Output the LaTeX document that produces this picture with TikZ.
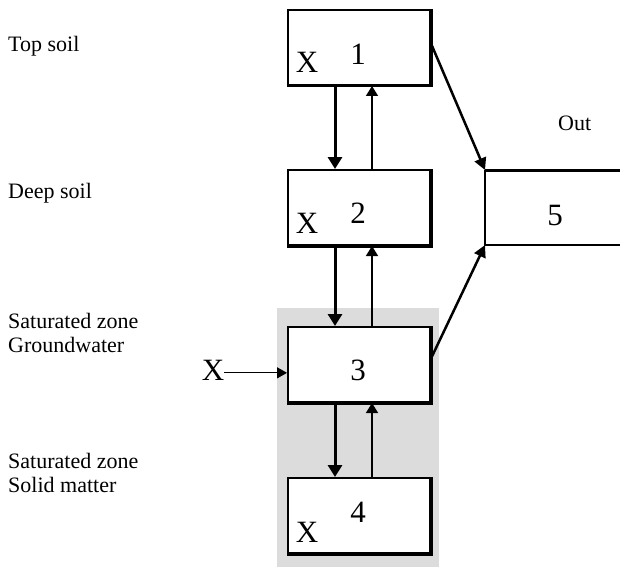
\documentclass[tikz,border=0pt]{standalone}
\usepackage{fontspec}
\setmainfont{Liberation Serif}
\usetikzlibrary{arrows.meta,calc}
\definecolor{zonegray}{RGB}{220,220,220}
\begin{document}
\begin{tikzpicture}[x=1pt,y=-1pt,
  box/.style={draw,line width=2pt,fill=white,minimum width=142pt,minimum height=75pt,inner sep=0pt},
  lbl/.style={font=\fontsize{22}{24}\selectfont,anchor=base west,inner sep=0pt},
  big/.style={font=\fontsize{31}{34}\selectfont,anchor=base,inner sep=0pt},
  downflow/.style={line width=3pt,-{Triangle[length=12pt,width=14pt]}},
  upflow/.style={line width=1.5pt,-{Triangle[length=10pt,width=12pt]}},
  outflow/.style={line width=2.5pt,-{Triangle[length=12pt,width=12pt]}},
  inflow/.style={line width=1.2pt,-{Triangle[length=10pt,width=11pt]}}]
\useasboundingbox (0,0) rectangle (620,567);

% saturated zone background
\fill[zonegray] (277,308) rectangle (439,567);

% compartments
\node[box] (b1) at (359,47.5) {};
\node[box] (b2) at (359,207.5) {};
\node[box] (b3) at (359,364.5) {};
\node[box] (b4) at (359,515.5) {};
\foreach \b in {b1,b2,b3,b4}
  \draw[line width=3pt] (\b.north east) -- (\b.south east) -- (\b.south west);

% numbers and sources inside the compartments
\node[big] (n1) at (358,65) {1};
\node[big] (n2) at (358,223) {2};
\node[big] (n3) at (358,380) {3};
\node[big] (n4) at (358,522) {4};
\node[big] (x1) at (307,73) {X};
\node[big] (x2) at (307,233) {X};
\node[big] (x4) at (307,542) {X};

% outlet compartment, open to the right
\coordinate (c5nw) at (485,170);
\coordinate (c5sw) at (485,245);
\coordinate (c5ne) at (620,170);
\coordinate (c5se) at (620,245);
\draw[line width=3pt] (c5nw) -- (c5ne);
\draw[line width=1.5pt] (c5ne -| c5nw) -- (c5sw) -- (c5se);
\node[big] (n5) at (555,225) {5};
\node[lbl] (out) at (558,130) {Out};

% layer labels
\node[lbl] (l1) at (8,52) {Top soil};
\node[lbl] (l2) at (8,198) {Deep soil};
\node[lbl] (l3a) at (8,328) {Saturated zone};
\node[lbl] (l3b) at (8,352) {Groundwater};
\node[lbl] (l4a) at (8,468) {Saturated zone};
\node[lbl] (l4b) at (8,492) {Solid matter};

% vertical exchanges
\foreach \u/\d in {b1/b2,b2/b3,b3/b4}{
  \draw[downflow] ([xshift=48pt]\u.south west) -- ([xshift=48pt]\d.north west);
  \draw[upflow] ([xshift=85pt]\d.north west) -- ([xshift=85pt]\u.south west);
}

% outflows
\draw[outflow] ([yshift=4pt]b1.east) -- (c5nw);
\draw[outflow] ([yshift=6pt]b3.east) -- (c5sw);

% external input to groundwater
\node[big] (xin) at (213,380) {X};
\draw[inflow] ([yshift=-3pt]xin.east) -- ([yshift=-3pt]xin.east -| b3.west);
\end{tikzpicture}
\end{document}
